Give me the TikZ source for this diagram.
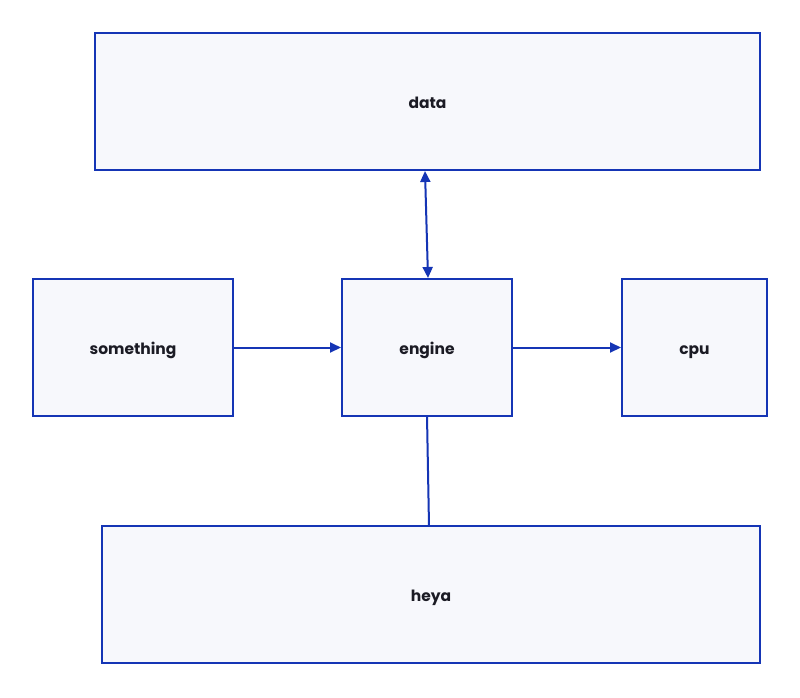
\documentclass[tikz,border=0pt]{standalone}
\usepackage{fontspec}
\setmainfont{Poppins}
\usetikzlibrary{arrows.meta}
\definecolor{edge}{HTML}{1535B5}
\definecolor{boxfill}{HTML}{F7F8FC}
\definecolor{txt}{HTML}{1B1B24}
\begin{document}
\begin{tikzpicture}[x=1pt,y=-1pt,
  blk/.style={draw=edge,fill=boxfill,line width=2pt,inner sep=0pt,text height=14pt,text depth=1pt,font=\fontsize{15.5}{18}\selectfont\bfseries,text=txt},
  conn/.style={draw=edge,line width=2pt},
  tip/.style={-{Triangle[length=11pt,width=10pt]}}]
\useasboundingbox (0,0) rectangle (800,697);
\fill[white] (0,0) rectangle (800,697);
\node[blk,minimum width=665pt,minimum height=137pt] (data) at (427.5,101.5) {data};
\node[blk,minimum width=200pt,minimum height=137pt] (something) at (133,347.5) {something};
\node[blk,minimum width=170pt,minimum height=137pt] (engine) at (427,347.5) {engine};
\node[blk,minimum width=145pt,minimum height=137pt] (cpu) at (694.5,347.5) {cpu};
\node[blk,minimum width=658pt,minimum height=137pt] (heya) at (431,594.5) {heya};
\coordinate (dtop) at (425,171);
\coordinate (etop) at (428,278);
\draw[conn,{Triangle[length=11pt,width=10pt]}-{Triangle[length=11pt,width=10pt]}] (dtop) -- (etop);
\draw[conn,tip] (something.east) -- (engine.west);
\draw[conn,tip] (engine.east) -- (cpu.west);
\coordinate (ebot) at (427,416);
\coordinate (htop) at (429,526);
\draw[conn] (ebot) -- (htop);
\end{tikzpicture}
\end{document}
